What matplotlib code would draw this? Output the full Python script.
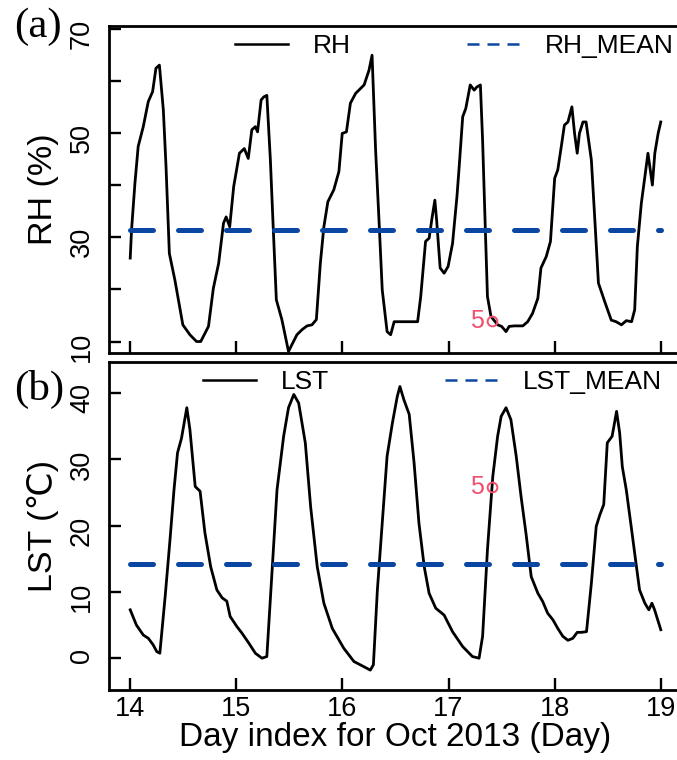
import matplotlib.pyplot as plt
from matplotlib.lines import Line2D

plt.rcParams['font.family'] = ['Liberation Sans', 'DejaVu Sans']

# hours after 00:00 14 Oct 2013, vertices
rh_hour = [0, 0.3, 1.06, 1.8, 2.95, 4.08, 5.06, 5.82, 6.6, 7.49,
           8.1, 8.85, 10.1, 11.9, 13.5, 15.0, 15.95, 17.7, 18.8, 20.0,
           21.1, 21.7, 22.5, 23.4, 24.7, 25.8, 26.7, 27.5, 28.3, 28.8,
           29.6, 30.2, 30.9, 31.7, 32.3, 33.05, 34.3, 35.8, 37.7, 38.9,
           40.0, 41.1, 42.1, 43.0, 43.8, 44.7, 46.05, 47.2, 47.95, 48.9,
           49.8, 51.0, 52.9, 54.0, 54.7, 55.5, 56.3, 57.0, 58.1, 58.9,
           59.7, 65.0, 65.7, 66.8, 67.6, 68.3, 68.9, 69.3, 70.1, 71.0,
           71.9, 72.9, 73.9, 74.4, 75.2, 75.9, 76.9, 77.8, 78.4, 79.2,
           79.7, 80.3, 80.8, 81.6, 83.1, 84.0, 85.0, 85.7, 86.9, 88.8,
           89.9, 91.0, 92.2, 92.9, 94.1, 95.05, 96.0, 96.7, 97.5, 98.2,
           99.0, 99.9, 100.5, 101.1, 101.6, 102.4, 103.1, 104.3, 105.0, 105.9,
           107.3, 108.8, 109.9, 111.1, 112.2, 113.4, 114.1, 114.7, 115.6, 116.4,
           117.1, 118.1, 118.65, 119.4, 120.0]
rh = [26.0, 31.4, 40.3, 47.4, 51.2, 56.0, 57.9, 62.4, 63.0, 54.4,
      43.5, 26.9, 21.8, 13.2, 11.3, 10.0, 10.0, 12.9, 20.2, 25.0,
      32.7, 33.9, 32.0, 39.7, 46.1, 47.0, 45.1, 50.6, 51.2, 50.2,
      56.3, 56.9, 57.2, 44.8, 32.7, 18.0, 14.2, 8.1, 11.3, 12.3,
      13.0, 13.2, 14.2, 25.0, 32.0, 36.8, 39.1, 42.6, 49.9, 50.2,
      55.7, 57.6, 59.2, 62.0, 64.9, 46.7, 32.7, 19.9, 11.9, 11.3,
      13.8, 13.8, 18.6, 29.2, 29.8, 33.9, 37.1, 33.3, 24.1, 23.1,
      24.4, 28.8, 37.8, 43.5, 53.1, 54.7, 59.2, 58.2, 58.8, 59.2,
      48.6, 32.0, 18.6, 14.8, 13.2, 12.9, 11.9, 12.9, 13.0, 13.0,
      13.8, 15.4, 18.3, 24.1, 26.3, 29.2, 41.3, 42.9, 47.4, 51.5,
      52.1, 55.0, 49.9, 46.1, 49.9, 52.1, 52.1, 44.8, 34.6, 21.2,
      17.7, 14.1, 13.8, 13.2, 14.0, 13.8, 16.1, 28.2, 36.5, 41.6,
      46.1, 40.0, 46.1, 49.9, 52.1]

lst_hour = [0, 1.4, 2.95, 4.1, 5.2, 6.0, 6.7, 7.9, 9.0, 9.9,
            10.7, 11.6, 12.8, 13.5, 14.7, 15.8, 16.9, 18.2, 19.6, 20.8,
            21.85, 22.6, 24.1, 25.25, 26.8, 28.3, 29.8, 30.9, 32.05, 33.2,
            34.7, 35.8, 37.0, 38.1, 39.6, 40.8, 42.3, 43.8, 45.7, 48.3,
            50.6, 52.9, 54.3, 55.0, 55.9, 57.0, 58.1, 59.3, 60.4, 61.0,
            61.9, 63.1, 64.2, 65.3, 66.5, 67.6, 69.1, 71.0, 72.9, 75.2,
            77.4, 78.9, 79.7, 80.8, 82.0, 83.1, 83.9, 85.0, 86.1, 87.3,
            88.4, 89.5, 90.7, 92.2, 93.3, 94.4, 95.6, 96.7, 97.85, 99.0,
            100.1, 101.1, 102.0, 103.2, 104.3, 105.4, 106.2, 107.1, 107.9, 109.0,
            110.0, 110.7, 111.3, 112.2, 113.4, 114.5, 115.2, 116.4, 117.3, 118.0,
            118.6, 120.0]
lst = [7.3, 5.0, 3.5, 3.0, 2.0, 1.0, 0.75, 9.3, 17.9, 25.4,
       31.0, 33.2, 37.8, 34.5, 25.9, 25.2, 18.9, 13.8, 10.3, 9.1,
       8.6, 6.3, 4.8, 3.8, 2.3, 0.75, 0.0, 0.25, 12.8, 25.4,
       33.5, 37.8, 39.8, 38.5, 32.5, 22.9, 13.8, 8.3, 4.5, 1.5,
       -0.5, -1.3, -1.8, -1.0, 10.3, 20.4, 30.5, 35.5, 39.5, 41.0,
       39.0, 36.8, 29.5, 20.4, 13.8, 9.8, 7.55, 6.5, 4.0, 1.75,
       0.25, 0.0, 3.3, 16.4, 27.4, 33.5, 36.5, 37.8, 36.0, 30.5,
       24.4, 18.9, 12.3, 9.8, 8.55, 6.8, 5.8, 4.5, 3.3, 2.7,
       3.0, 3.9, 3.9, 4.0, 11.3, 19.9, 21.6, 23.2, 32.5, 33.5,
       37.25, 34.0, 28.9, 25.4, 19.4, 13.8, 10.3, 8.3, 7.3, 8.3,
       7.3, 4.3]

rh_mean = 31.4
lst_mean = 14.2
mean_span = [14, 19]

# the point labelled "5" in both panels
pt_day = 17.41
pt_rh = 14.0
pt_lst = 25.9
pt_label = '5'

day_ticks = [14, 15, 16, 17, 18, 19]
rh_ticks = [10, 20, 30, 40, 50, 60, 70]
rh_ticklabels = ['10', '', '30', '', '50', '', '70']
lst_ticks = [0, 10, 20, 30, 40]

rh_day = [14 + h / 24 for h in rh_hour]
lst_day = [14 + h / 24 for h in lst_hour]

blue = '#0A47A3'
pink = '#F0506E'

fig = plt.figure(figsize=(6.77, 7.6), dpi=100)
W, H = 677, 760
ax1 = fig.add_axes([109 / W, 1 - 353 / H, 573 / W, 327 / H])
ax2 = fig.add_axes([109 / W, 1 - 690 / H, 573 / W, 328 / H])

mean_style = dict(color=blue, lw=3.6, linestyle=(0, (4.6, 5.0)),
                  dash_capstyle='round')

ax1.plot(rh_day, rh, color='black', lw=2.0)
ax1.plot(mean_span, [rh_mean, rh_mean], **mean_style)
ax1.plot(pt_day, pt_rh, 'o', mfc='none', mec=pink, ms=7, mew=1.4)
ax1.annotate(pt_label, (pt_day, pt_rh), xytext=(-6, 0), textcoords='offset points',
             ha='right', va='center', color=pink, fontsize=18)

ax2.plot(lst_day, lst, color='black', lw=2.0)
ax2.plot(mean_span, [lst_mean, lst_mean], **mean_style)
ax2.plot(pt_day, pt_lst, 'o', mfc='none', mec=pink, ms=7, mew=1.4)
ax2.annotate(pt_label, (pt_day, pt_lst), xytext=(-6, 0), textcoords='offset points',
             ha='right', va='center', color=pink, fontsize=18)

ax1.set_ylim(7.8, 70.5)
ax1.set_yticks(rh_ticks)
ax1.set_yticklabels(rh_ticklabels)
ax2.set_ylim(-4.8, 44.7)
ax2.set_yticks(lst_ticks)

for ax in (ax1, ax2):
    ax.set_xlim(13.8, 19.2)
    ax.set_xticks(day_ticks)
    ax.tick_params(direction='in', length=8.5, width=1.7, labelsize=19.5)
    ax.tick_params(axis='y', labelrotation=90, pad=10)
    ax.tick_params(axis='x', pad=4)
    for s in ax.spines.values():
        s.set_linewidth(2.0)

ax1.tick_params(axis='x', labelbottom=False)

ax1.set_ylabel('RH (%)', fontsize=24.5)
ax2.set_ylabel('LST (℃)', fontsize=24.5)
ax1.yaxis.set_label_coords(-0.087, 0.5)
ax2.yaxis.set_label_coords(-0.087, 0.5)
ax2.set_xlabel('Day index for Oct 2013 (Day)', fontsize=24, labelpad=0)

fig.text(14 / W, 1 - 27 / H, '(a)', family='Liberation Serif', fontsize=31,
         ha='left', va='center')
fig.text(14 / W, 1 - 389 / H, '(b)', family='Liberation Serif', fontsize=31,
         ha='left', va='center')

leg_kw = dict(ncol=2, frameon=False, fontsize=19, handlelength=2.0,
              handletextpad=0.95, columnspacing=4.4, borderpad=0,
              borderaxespad=0, loc='center left', bbox_transform=fig.transFigure)
solid = Line2D([], [], color='black', lw=1.8)
dashed = Line2D([], [], color=blue, lw=1.8, linestyle=(0, (4.8, 3.2)))
ax1.legend([solid, dashed], ['RH', 'RH_MEAN'],
           bbox_to_anchor=(235 / W, 1 - 46 / H), **leg_kw)
ax2.legend([solid, dashed], ['LST', 'LST_MEAN'],
           bbox_to_anchor=(203 / W, 1 - 382 / H), **leg_kw)

fig.savefig('out.png', dpi=100)
